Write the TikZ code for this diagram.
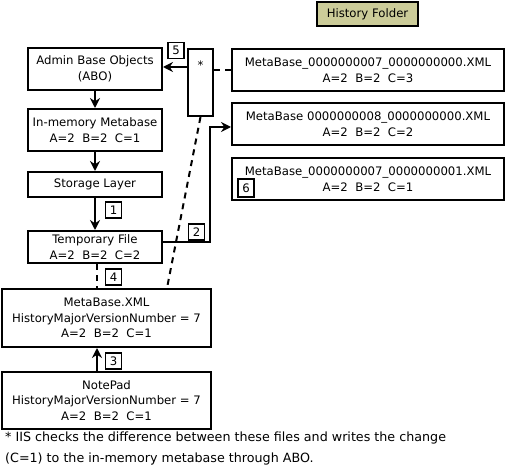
\documentclass[tikz,border=0pt]{standalone}
\usepackage{fontspec}
\setmainfont{DejaVu Sans}
\usetikzlibrary{arrows.meta,calc}
\definecolor{histfill}{RGB}{204,204,153}
\begin{document}
\begin{tikzpicture}[x=1pt,y=-1pt,
  every node/.style={font=\fontsize{11.7}{15.5}\selectfont},
  box/.style={draw,line width=2pt,inner sep=0pt,align=center},
  num/.style={draw,line width=1.8pt,inner sep=0pt,minimum width=16pt,minimum height=16pt},
  arr/.style={line width=2pt,-{Stealth[length=10pt,width=10pt]}},
  dashline/.style={line width=2pt,dash pattern=on 6pt off 5pt},
  foot/.style={anchor=base west,inner sep=0pt,font=\fontsize{12.7}{15}\selectfont}]
\useasboundingbox (0,0) rectangle (508,470);
% history folder
\node[box,fill=histfill,minimum width=101pt,minimum height=24pt] (hist) at (367.5,14) {History Folder};
% left column
\node[box,minimum width=134pt,minimum height=42pt] (abo) at (95,69) {Admin Base Objects\\(ABO)};
\node[box,minimum width=134pt,minimum height=42pt] (inmem) at (95,130) {In-memory Metabase\\A=2\ \ B=2\ \ C=1};
\node[box,minimum width=134pt,minimum height=25pt] (storage) at (95,184.5) {Storage Layer};
\node[box,minimum width=134pt,minimum height=32pt] (temp) at (95,247) {Temporary File\\A=2\ \ B=2\ \ C=2};
\node[box,minimum width=209pt,minimum height=58pt] (mbxml) at (106.5,318) {MetaBase.XML\\HistoryMajorVersionNumber = 7\\A=2\ \ B=2\ \ C=1};
\node[box,minimum width=209pt,minimum height=57pt] (notepad) at (106.5,400.5) {NotePad\\HistoryMajorVersionNumber = 7\\A=2\ \ B=2\ \ C=1};
% star box
\node[box,minimum width=25pt,minimum height=67pt] (star) at (200.5,82.5) {};
\node[inner sep=0pt] (starlbl) at (200.5,65) {*};
% history files
\node[box,minimum width=272pt,minimum height=42pt] (f70) at (368,70) {MetaBase\_0000000007\_0000000000.XML\\A=2\ \ B=2\ \ C=3};
\node[box,minimum width=272pt,minimum height=42pt] (f80) at (368,124) {MetaBase 0000000008\_0000000000.XML\\A=2\ \ B=2\ \ C=2};
\node[box,minimum width=272pt,minimum height=42pt] (f71) at (368,179) {MetaBase\_0000000007\_0000000001.XML\\A=2\ \ B=2\ \ C=1};
% number boxes
\node[num] (b1) at (113.5,210) {1};
\node[num] (b2) at (196.5,232) {2};
\node[num] (b3) at (113.5,361) {3};
\node[num] (b4) at (113.5,277) {4};
\node[num] (b5) at (176,50.5) {5};
\node[num,minimum height=18pt] (b6) at (246,188) {6};
% connectors
\draw[arr] (abo.south) -- (inmem.north);
\draw[arr] (inmem.south) -- (storage.north);
\draw[arr] (storage.south) -- (temp.north);
\draw[arr] ([xshift=-9.5pt]notepad.north) -- ([xshift=-9.5pt]mbxml.south);
\draw[dashline] ([xshift=2pt]temp.south) -- ([xshift=-9.5pt]mbxml.north);
\draw[arr] ([yshift=2pt]star.west |- abo.east) -- ([yshift=2pt]abo.east);
\draw[dashline] (star.east |- f70.west) -- (f70.west);
\draw[dashline] (star.south) -- ([xshift=60.5pt]mbxml.north);
\draw[arr] ([yshift=5pt]temp.east) -- ++(47,0) |- ([yshift=-3pt]f80.west);
% footnote
\node[foot] (foot1) at (5,441) {* IIS checks the difference between these files and writes the change};
\node[foot] (foot2) at (5,462) {(C=1) to the in-memory metabase through ABO.};
\end{tikzpicture}
\end{document}
